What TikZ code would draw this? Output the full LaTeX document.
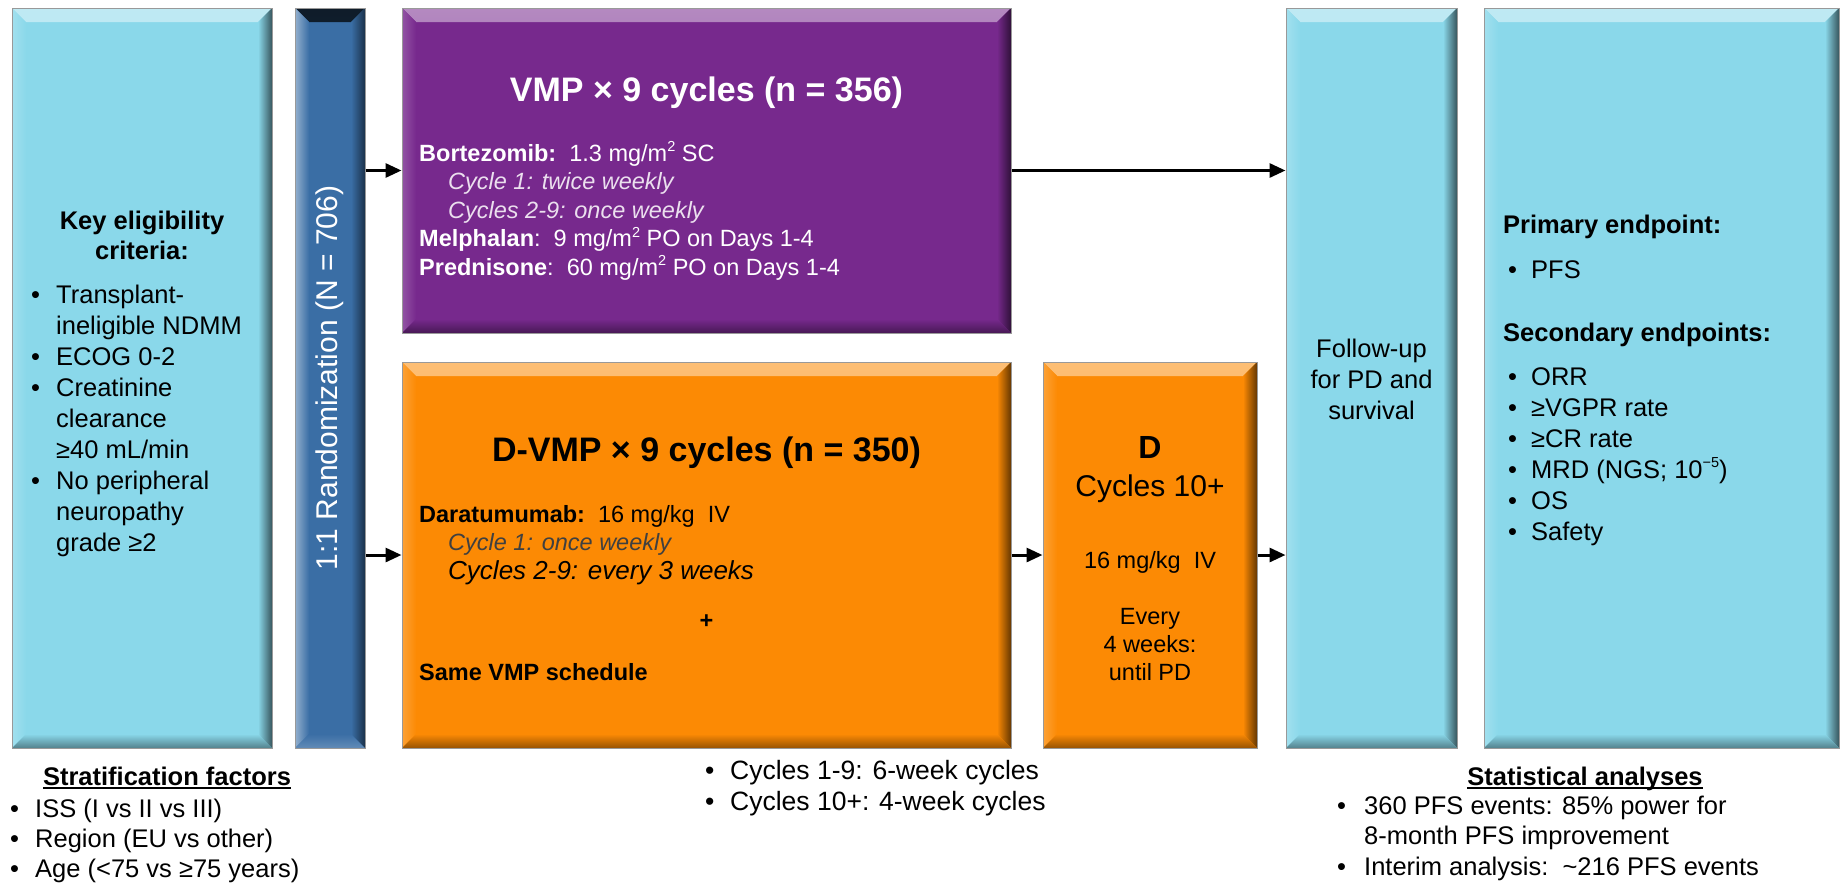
\documentclass[tikz,border=0pt]{standalone}
\usepackage{fontspec}
\setmainfont{Liberation Sans}
\usepackage{xcolor}
\usepackage{tikz}
\usetikzlibrary{arrows.meta}

\definecolor{eligblue}{RGB}{138,216,234}
\definecolor{randblue}{RGB}{58,110,165}
\definecolor{vmppurple}{RGB}{119,41,141}
\definecolor{darorange}{RGB}{252,138,4}

\newcommand{\fsz}[2]{\fontsize{#1}{#2}\selectfont}
\newcommand{\bul}[1][25pt]{\makebox[#1][l]{\textbullet}}
\newcommand{\indnt}[1][25pt]{\makebox[#1]{}}
\newcommand{\supr}[1]{\smash{\raisebox{0.42em}{\fontsize{14.5}{14.5}\selectfont #1}}}
\newcommand{\sqm}{\supr{2}}
\newcommand{\ulined}[1]{\setbox0=\hbox{#1}\rlap{\rule[-4pt]{\wd0}{2pt}}\box0}

\tikzset{
  box/.style={draw=black!40, line width=1pt, inner sep=0pt, fill=#1,
    path picture={
      % light from the top left, shade on the right and bottom
      \shade[top color=#1!55!white, bottom color=#1]
        (path picture bounding box.north west) -- (path picture bounding box.north east)
        -- ([shift={(-14pt,-14pt)}]path picture bounding box.north east)
        -- ([shift={(14pt,-14pt)}]path picture bounding box.north west) -- cycle;
      \shade[left color=#1!80!white, right color=#1]
        (path picture bounding box.north west) -- (path picture bounding box.south west)
        -- ([shift={(14pt,14pt)}]path picture bounding box.south west)
        -- ([shift={(14pt,-14pt)}]path picture bounding box.north west) -- cycle;
      \shade[left color=#1, right color=#1!40!black]
        (path picture bounding box.north east) -- (path picture bounding box.south east)
        -- ([shift={(-14pt,14pt)}]path picture bounding box.south east)
        -- ([shift={(-14pt,-14pt)}]path picture bounding box.north east) -- cycle;
      \shade[top color=#1, bottom color=#1!60!black]
        (path picture bounding box.south west) -- (path picture bounding box.south east)
        -- ([shift={(-14pt,14pt)}]path picture bounding box.south east)
        -- ([shift={(14pt,14pt)}]path picture bounding box.south west) -- cycle;
    }},
  % the upright bar has its bevel turned a quarter
  rbox/.style={draw=black!40, line width=1pt, inner sep=0pt, fill=#1,
    path picture={
      \shade[top color=#1!25!black, bottom color=#1]
        (path picture bounding box.north west) -- (path picture bounding box.north east)
        -- ([shift={(-14pt,-14pt)}]path picture bounding box.north east)
        -- ([shift={(14pt,-14pt)}]path picture bounding box.north west) -- cycle;
      \shade[left color=#1!55!white, right color=#1]
        (path picture bounding box.north west) -- (path picture bounding box.south west)
        -- ([shift={(14pt,14pt)}]path picture bounding box.south west)
        -- ([shift={(14pt,-14pt)}]path picture bounding box.north west) -- cycle;
      \shade[left color=#1, right color=#1!45!black]
        (path picture bounding box.north east) -- (path picture bounding box.south east)
        -- ([shift={(-14pt,14pt)}]path picture bounding box.south east)
        -- ([shift={(-14pt,-14pt)}]path picture bounding box.north east) -- cycle;
      \shade[top color=#1, bottom color=#1!80!white]
        (path picture bounding box.south west) -- (path picture bounding box.south east)
        -- ([shift={(-14pt,14pt)}]path picture bounding box.south east)
        -- ([shift={(14pt,14pt)}]path picture bounding box.south west) -- cycle;
    }},
  txt/.style={inner sep=0pt},
  arr/.style={line width=3pt, -{Triangle[length=16pt,width=14pt]}}
}

\begin{document}
\begin{tikzpicture}[x=1pt,y=-1pt]
  \useasboundingbox (0,0) rectangle (1841,884);

  % boxes
  \node[box=eligblue, minimum width=260pt, minimum height=740pt] (elig) at (142,378) {};
  \node[rbox=randblue, minimum width=70pt, minimum height=740pt] (rand) at (330,378) {};
  \node[box=vmppurple, minimum width=609pt, minimum height=325pt] (vmp) at (706.5,170.5) {};
  \node[box=darorange, minimum width=609pt, minimum height=386pt] (dvmp) at (706.5,555) {};
  \node[box=darorange, minimum width=214pt, minimum height=386pt] (dmono) at (1150,555) {};
  \node[box=eligblue, minimum width=171pt, minimum height=740pt] (follow) at (1371.5,378) {};
  \node[box=eligblue, minimum width=355pt, minimum height=740pt] (endp) at (1661.5,378) {};

  % arrows
  \draw[arr] (rand.east |- vmp.west) -- (vmp.west);
  \draw[arr] (rand.east |- dvmp.west) -- (dvmp.west);
  \draw[arr] (vmp.east) -- (follow.west |- vmp.east);
  \draw[arr] (dvmp.east) -- (dmono.west);
  \draw[arr] (dmono.east) -- (follow.west |- dmono.east);

  % eligibility
  \node[txt, anchor=north, align=center, font=\fsz{25.5}{30}\bfseries] (elighead) at (142,210.5)
    {Key eligibility\\criteria:};
  \node[txt, anchor=north west, align=left, font=\fsz{25.5}{31}] (eliglist) at (31,285.2)
    {\bul Transplant-\\\indnt ineligible NDMM\\\bul ECOG 0-2\\\bul Creatinine\\
     \indnt clearance\\\indnt ≥40 mL/min\\\bul No peripheral\\\indnt neuropathy\\\indnt grade ≥2};
  \node[txt, rotate=90, text=white, font=\fsz{30}{36}] (randtxt) at (rand.center)
    {1:1 Randomization (N = 706)};

  % VMP arm
  \node[txt, anchor=base, text=white, font=\fsz{34}{40}\bfseries] (vmptitle) at (706.5,101)
    {VMP × 9 cycles (n = 356)};
  \node[txt, anchor=north west, align=left, text=white, font=\fsz{23.5}{28.5}] (vmpbody) at (419,144.2)
    {\textbf{Bortezomib:}\ \ 1.3 mg/m\sqm\ SC\\
     \indnt[29pt]{\color{white!85!vmppurple}\itshape Cycle 1: twice weekly}\\
     \indnt[29pt]{\color{white!85!vmppurple}\itshape Cycles 2-9: once weekly}\\
     \textbf{Melphalan}:\ \ 9 mg/m\sqm\ PO on Days 1-4\\
     \textbf{Prednisone}:\ \ 60 mg/m\sqm\ PO on Days 1-4};

  % D-VMP arm
  \node[txt, anchor=base, font=\fsz{34}{40}\bfseries] (dvmptitle) at (706.5,461)
    {D-VMP × 9 cycles (n = 350)};
  \node[txt, anchor=north west, align=left, font=\fsz{23.5}{28.5}] (dvmpbody) at (419,504.9)
    {\textbf{Daratumumab:}\ \ 16 mg/kg\ \ IV\\
     \indnt[29pt]{\color{black!75}\itshape Cycle 1: once weekly}};
  \node[txt, anchor=base west, font=\fsz{26}{31}\itshape] (dvmpcyc) at (448,579.6)
    {Cycles 2-9: every 3 weeks};
  \node[txt, font=\fsz{23.5}{28}\bfseries] (plus) at (706.5,622) {+};
  \node[txt, anchor=base west, font=\fsz{23.5}{28}\bfseries] (samevmp) at (419,680)
    {Same VMP schedule};

  % daratumumab alone
  \node[txt, anchor=base, font=\fsz{32}{38}\bfseries] (dtitle) at (1150,458.5) {D};
  \node[txt, anchor=base, font=\fsz{30}{36}] (dcyc) at (1150,496.7) {Cycles 10+};
  \node[txt, anchor=base, font=\fsz{23.5}{28}] (ddose) at (1150,568.4) {16 mg/kg\ \ IV};
  \node[txt, anchor=north, align=center, font=\fsz{23.5}{28}] (devery) at (1150,608)
    {Every\\4 weeks:\\until PD};

  % follow-up and endpoints
  \node[txt, anchor=north, align=center, font=\fsz{25.5}{31}] (followtxt) at (1371.5,339.2)
    {Follow-up\\for PD and\\survival};
  \node[txt, anchor=base west, font=\fsz{25.5}{31}\bfseries] (primhead) at (1503,233.4)
    {Primary endpoint:};
  \node[txt, anchor=base west, font=\fsz{25.5}{31}] (primlist) at (1508,278.4) {\bul[23pt]PFS};
  \node[txt, anchor=base west, font=\fsz{25.5}{31}\bfseries] (sechead) at (1503,341.4)
    {Secondary endpoints:};
  \node[txt, anchor=north west, align=left, font=\fsz{25.5}{31}] (seclist) at (1508,367.2)
    {\bul[23pt]ORR\\\bul[23pt]≥VGPR rate\\\bul[23pt]≥CR rate\\
     \bul[23pt]MRD (NGS; 10\supr{−5})\\\bul[23pt]OS\\\bul[23pt]Safety};

  % notes under the boxes
  \node[txt, anchor=base, font=\fsz{25.5}{31}\bfseries] (strathead) at (167,785.4)
    {\ulined{Stratification factors}};
  \node[txt, anchor=north west, align=left, font=\fsz{25.5}{30}] (stratlist) at (10,799)
    {\bul ISS (I vs II vs III)\\\bul Region (EU vs other)\\\bul Age (<75 vs ≥75 years)};
  \node[txt, anchor=north west, align=left, font=\fsz{26.5}{31}] (cyclist) at (705,759.8)
    {\bul Cycles 1-9: 6-week cycles\\\bul Cycles 10+: 4-week cycles};
  \node[txt, anchor=base, font=\fsz{25.5}{31}\bfseries] (stathead) at (1585,785.4)
    {\ulined{Statistical analyses}};
  \node[txt, anchor=north west, align=left, font=\fsz{25.5}{30.5}] (statlist) at (1337,795.5)
    {\bul[27pt]360 PFS events: 85\% power for\\\indnt[27pt]8-month PFS improvement\\
     \bul[27pt]Interim analysis:\ \ \textasciitilde 216 PFS events};
\end{tikzpicture}
\end{document}
